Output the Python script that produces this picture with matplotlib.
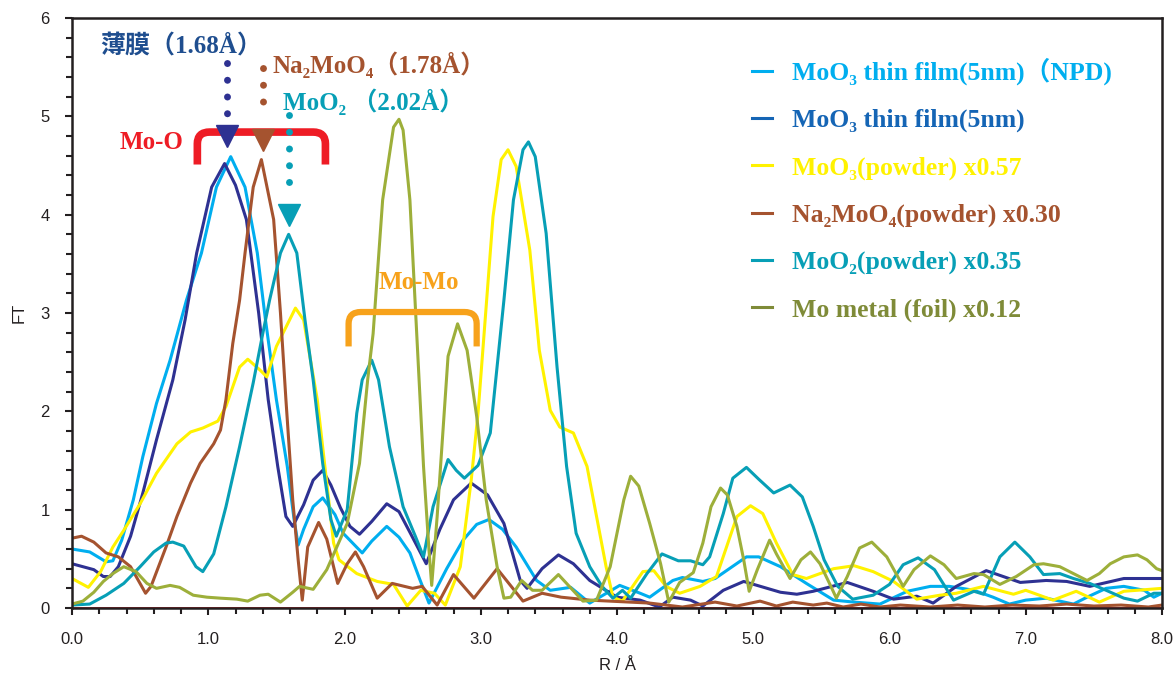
import matplotlib
matplotlib.use("Agg")
import matplotlib.pyplot as plt
from matplotlib.path import Path
from matplotlib.patches import PathPatch
from matplotlib.lines import Line2D
from matplotlib.ticker import MultipleLocator, FormatStrFormatter

SERIF = ['Liberation Serif', 'DejaVu Serif', 'Noto Sans CJK JP']

# --- data ---
npd_r = [0, 0.13, 0.25, 0.30, 0.365, 0.45, 0.52, 0.62, 0.72, 0.84, 0.95, 1.06, 1.165, 1.27, 1.36, 1.42,
         1.50, 1.58, 1.63, 1.66, 1.70, 1.77, 1.84, 1.93, 1.99, 2.13, 2.20, 2.31, 2.40, 2.48, 2.55, 2.62,
         2.75, 2.87, 2.97, 3.06, 3.16, 3.26, 3.41, 3.51, 3.66, 3.80, 4.02, 4.17, 4.24, 4.41, 4.48, 4.63,
         4.72, 4.95, 5.04, 5.20, 5.39, 5.59, 5.74, 5.93, 6.13, 6.30, 6.44, 6.62, 6.76, 6.88, 7.00, 7.15,
         7.35, 7.45, 7.59, 7.72, 7.87, 7.94, 8.0]
npd_ft = [0.60, 0.57, 0.47, 0.48, 0.69, 1.10, 1.54, 2.08, 2.52, 3.13, 3.61, 4.28, 4.59, 4.28, 3.61, 2.93,
          2.12, 1.44, 0.90, 0.64, 0.80, 1.03, 1.12, 0.95, 0.76, 0.56, 0.68, 0.83, 0.72, 0.56, 0.30, 0.05,
          0.40, 0.69, 0.85, 0.90, 0.80, 0.62, 0.28, 0.18, 0.21, 0.05, 0.23, 0.15, 0.11, 0.28, 0.31, 0.27,
          0.30, 0.52, 0.52, 0.42, 0.25, 0.08, 0.06, 0.04, 0.17, 0.22, 0.22, 0.18, 0.11, 0.04, 0.08, 0.10,
          0.04, 0.11, 0.20, 0.22, 0.18, 0.11, 0.15]

film_r = [0, 0.16, 0.23, 0.28, 0.34, 0.43, 0.52, 0.62, 0.74, 0.83, 0.915, 1.025, 1.12, 1.20, 1.28, 1.37,
          1.44, 1.51, 1.57, 1.62, 1.70, 1.77, 1.84, 1.90, 1.97, 2.04, 2.11, 2.20, 2.31, 2.40, 2.48, 2.60,
          2.70, 2.80, 2.93, 3.05, 3.17, 3.29, 3.34, 3.45, 3.57, 3.68, 3.80, 4.00, 4.17, 4.31, 4.41, 4.54,
          4.63, 4.78, 4.93, 5.20, 5.32, 5.44, 5.69, 5.88, 6.03, 6.20, 6.32, 6.49, 6.71, 6.96, 7.15, 7.30,
          7.47, 7.72, 7.94, 8.0]
film_ft = [0.45, 0.39, 0.32, 0.32, 0.42, 0.73, 1.17, 1.71, 2.32, 2.93, 3.61, 4.28, 4.52, 4.30, 3.95, 3.00,
           2.12, 1.44, 0.93, 0.83, 1.05, 1.30, 1.40, 1.25, 1.02, 0.83, 0.75, 0.88, 1.06, 0.98, 0.77, 0.45,
           0.80, 1.10, 1.27, 1.15, 0.86, 0.28, 0.20, 0.40, 0.54, 0.45, 0.28, 0.11, 0.08, 0.01, 0.11, 0.08,
           0.02, 0.18, 0.27, 0.16, 0.14, 0.17, 0.26, 0.17, 0.09, 0.12, 0.05, 0.22, 0.38, 0.26, 0.28, 0.27,
           0.22, 0.30, 0.30, 0.30]

moo3_r = [0, 0.12, 0.21, 0.30, 0.38, 0.50, 0.62, 0.77, 0.87, 0.96, 1.07, 1.13, 1.23, 1.29, 1.38, 1.43,
          1.50, 1.64, 1.70, 1.80, 1.87, 1.92, 1.96, 2.09, 2.24, 2.36, 2.46, 2.56, 2.66, 2.74, 2.85, 2.93,
          2.98, 3.09, 3.15, 3.20, 3.26, 3.36, 3.43, 3.51, 3.58, 3.68, 3.78, 3.85, 3.92, 3.97, 4.04, 4.19,
          4.27, 4.36, 4.46, 4.61, 4.73, 4.88, 4.98, 5.07, 5.17, 5.29, 5.39, 5.59, 5.74, 5.88, 6.03, 6.20,
          6.37, 6.49, 6.69, 6.91, 7.00, 7.20, 7.37, 7.54, 7.72, 7.91, 8.0]
moo3_ft = [0.30, 0.21, 0.37, 0.62, 0.79, 1.06, 1.37, 1.67, 1.79, 1.83, 1.90, 2.05, 2.45, 2.53, 2.42, 2.35,
           2.66, 3.05, 2.93, 2.12, 1.27, 0.66, 0.49, 0.35, 0.27, 0.24, 0.02, 0.18, 0.15, 0.03, 0.42, 1.30,
           1.98, 3.98, 4.56, 4.66, 4.49, 3.64, 2.62, 2.01, 1.84, 1.78, 1.44, 0.93, 0.42, 0.11, 0.07, 0.37,
           0.38, 0.22, 0.15, 0.22, 0.32, 0.93, 1.04, 0.96, 0.66, 0.34, 0.30, 0.40, 0.43, 0.37, 0.27, 0.09,
           0.13, 0.15, 0.22, 0.14, 0.18, 0.08, 0.17, 0.06, 0.17, 0.19, 0.20]

namoo_r = [0, 0.07, 0.16, 0.25, 0.34, 0.43, 0.54, 0.58, 0.69, 0.77, 0.87, 0.94, 1.04, 1.09, 1.13, 1.18,
           1.23, 1.27, 1.33, 1.39, 1.48, 1.53, 1.57, 1.62, 1.66, 1.69, 1.73, 1.81, 1.87, 1.95, 2.02, 2.08,
           2.14, 2.24, 2.35, 2.50, 2.57, 2.68, 2.80, 2.95, 3.12, 3.31, 3.45, 3.59, 3.80, 4.24, 4.48, 4.72,
           4.88, 5.05, 5.17, 5.29, 5.44, 5.54, 5.66, 5.79, 5.93, 6.08, 6.30, 6.50, 6.70, 6.90, 7.10, 7.30,
           7.50, 7.70, 7.90, 8.0]
namoo_ft = [0.71, 0.73, 0.67, 0.56, 0.52, 0.42, 0.15, 0.22, 0.62, 0.93, 1.27, 1.47, 1.67, 1.81, 2.12, 2.69,
            3.13, 3.61, 4.28, 4.56, 3.95, 3.00, 2.12, 1.10, 0.49, 0.08, 0.62, 0.87, 0.70, 0.25, 0.45, 0.57,
            0.42, 0.10, 0.25, 0.20, 0.22, 0.03, 0.34, 0.10, 0.40, 0.07, 0.15, 0.11, 0.08, 0.05, 0.01, 0.06,
            0.02, 0.07, 0.02, 0.06, 0.03, 0.05, 0.01, 0.04, 0.01, 0.03, 0.01, 0.03, 0.01, 0.03, 0.02, 0.04,
            0.02, 0.03, 0.01, 0.03]

moo2_r = [0, 0.13, 0.25, 0.38, 0.50, 0.60, 0.69, 0.74, 0.82, 0.91, 0.96, 1.04, 1.13, 1.23, 1.33, 1.40,
          1.45, 1.53, 1.59, 1.65, 1.71, 1.77, 1.84, 1.90, 1.94, 2.02, 2.09, 2.13, 2.20, 2.25, 2.33, 2.43,
          2.52, 2.58, 2.65, 2.76, 2.82, 2.88, 2.98, 3.07, 3.17, 3.24, 3.31, 3.35, 3.40, 3.48, 3.56, 3.63,
          3.70, 3.80, 3.89, 3.97, 4.04, 4.10, 4.22, 4.33, 4.45, 4.54, 4.63, 4.68, 4.78, 4.85, 4.95, 5.04,
          5.15, 5.27, 5.36, 5.44, 5.52, 5.62, 5.73, 5.88, 6.00, 6.10, 6.21, 6.33, 6.47, 6.62, 6.69, 6.81,
          6.92, 7.03, 7.13, 7.25, 7.35, 7.47, 7.59, 7.72, 7.82, 7.94, 8.0]
moo2_ft = [0.03, 0.04, 0.13, 0.25, 0.42, 0.57, 0.66, 0.67, 0.63, 0.42, 0.37, 0.55, 1.03, 1.64, 2.29, 2.79,
           3.13, 3.61, 3.80, 3.61, 2.93, 2.32, 1.47, 0.90, 0.73, 1.00, 1.98, 2.32, 2.52, 2.32, 1.64, 1.03,
           0.73, 0.52, 1.03, 1.51, 1.40, 1.32, 1.45, 1.78, 3.13, 4.15, 4.66, 4.74, 4.59, 3.81, 2.45, 1.44,
           0.76, 0.42, 0.22, 0.10, 0.18, 0.10, 0.35, 0.55, 0.48, 0.48, 0.44, 0.52, 0.96, 1.32, 1.43, 1.31,
           1.17, 1.25, 1.13, 0.83, 0.49, 0.22, 0.09, 0.13, 0.24, 0.44, 0.51, 0.39, 0.08, 0.17, 0.14, 0.52,
           0.67, 0.52, 0.34, 0.35, 0.30, 0.25, 0.18, 0.10, 0.07, 0.15, 0.15]

mo_r = [0, 0.08, 0.16, 0.23, 0.30, 0.38, 0.47, 0.55, 0.62, 0.72, 0.79, 0.89, 0.99, 1.09, 1.21, 1.29,
        1.38, 1.44, 1.53, 1.62, 1.67, 1.77, 1.87, 2.02, 2.11, 2.17, 2.21, 2.28, 2.36, 2.40, 2.43, 2.48,
        2.53, 2.58, 2.62, 2.64, 2.68, 2.73, 2.76, 2.83, 2.90, 2.97, 3.04, 3.12, 3.17, 3.22, 3.30, 3.38,
        3.45, 3.57, 3.65, 3.75, 3.85, 3.95, 4.05, 4.10, 4.16, 4.24, 4.32, 4.38, 4.46, 4.56, 4.63, 4.69,
        4.76, 4.81, 4.88, 4.93, 4.97, 5.03, 5.12, 5.17, 5.27, 5.35, 5.42, 5.49, 5.57, 5.61, 5.69, 5.78,
        5.87, 5.98, 6.06, 6.10, 6.18, 6.30, 6.40, 6.49, 6.62, 6.69, 6.81, 6.93, 7.06, 7.13, 7.25, 7.35,
        7.45, 7.54, 7.62, 7.72, 7.82, 7.89, 7.96, 8.0]
mo_ft = [0.04, 0.07, 0.16, 0.27, 0.35, 0.42, 0.37, 0.25, 0.20, 0.23, 0.21, 0.13, 0.11, 0.10, 0.09, 0.07,
         0.13, 0.14, 0.06, 0.16, 0.22, 0.19, 0.39, 0.86, 1.47, 2.32, 2.79, 4.15, 4.89, 4.97, 4.86, 4.15,
         2.79, 1.44, 0.59, 0.23, 0.93, 1.95, 2.56, 2.89, 2.62, 1.95, 1.10, 0.42, 0.10, 0.11, 0.28, 0.18,
         0.18, 0.34, 0.22, 0.07, 0.08, 0.42, 1.10, 1.34, 1.24, 0.86, 0.45, 0.06, 0.26, 0.36, 0.66, 1.03,
         1.22, 1.15, 0.83, 0.49, 0.17, 0.39, 0.69, 0.55, 0.30, 0.49, 0.57, 0.45, 0.22, 0.10, 0.32, 0.61,
         0.67, 0.52, 0.32, 0.22, 0.39, 0.53, 0.44, 0.30, 0.35, 0.34, 0.24, 0.32, 0.44, 0.45, 0.42, 0.35,
         0.28, 0.35, 0.45, 0.52, 0.54, 0.49, 0.40, 0.38]

series = [
    ('MoO₃ thin film(5nm)（NPD)', npd_r, npd_ft, '#00AEEF', '#00AEEF'),
    ('MoO₃ thin film(5nm)', film_r, film_ft, '#2E3192', '#1565B5'),
    ('MoO₃(powder) x0.57', moo3_r, moo3_ft, '#FFF200', '#FFF200'),
    ('Na₂MoO₄(powder) x0.30', namoo_r, namoo_ft, '#A5532F', '#A5532F'),
    ('MoO₂(powder) x0.35', moo2_r, moo2_ft, '#079FB6', '#079FB6'),
    ('Mo metal (foil) x0.12', mo_r, mo_ft, '#9DAF3A', '#7F8B38'),
]

fig = plt.figure(figsize=(11.74, 6.76), dpi=100)
ax = fig.add_axes([72 / 1174, 68 / 676, 1090 / 1174, 590 / 676])

ax.axhline(0, color='#E3191F', lw=2.0, zorder=1)
for label, r, ft, color, lcolor in series:
    ax.plot(r, ft, color=color, lw=2.2, solid_joinstyle='round', zorder=2)

ax.set_xlim(0, 8)
ax.set_ylim(0, 6)
ax.xaxis.set_major_locator(MultipleLocator(1))
ax.xaxis.set_minor_locator(MultipleLocator(0.2))
ax.yaxis.set_major_locator(MultipleLocator(1))
ax.yaxis.set_minor_locator(MultipleLocator(0.2))
ax.xaxis.set_major_formatter(FormatStrFormatter('%.1f'))
ax.yaxis.set_major_formatter(FormatStrFormatter('%d'))
ax.tick_params(which='both', direction='out', color='#231F20', width=1.5,
               labelsize=12, labelcolor='#231F20')
ax.tick_params(which='major', length=5)
ax.tick_params(which='minor', length=4)
ax.tick_params(axis='x', which='major', pad=12)
ax.tick_params(axis='y', which='major', pad=11)
for lab in ax.get_xticklabels() + ax.get_yticklabels():
    lab.set_family('Liberation Sans')
for sp in ax.spines.values():
    sp.set_linewidth(1.8)
    sp.set_color('#231F20')

ax.set_xlabel('R / Å', family='Liberation Sans', fontsize=12, color='#231F20', labelpad=8)
ax.set_ylabel('FT', family='Liberation Sans', fontsize=12, color='#231F20', labelpad=10)


def bracket(x0, x1, ybot, ytop, color, lw):
    rx, ry = 0.09, 0.12
    verts = [(x0, ybot), (x0, ytop - ry), (x0, ytop), (x0 + rx, ytop),
             (x1 - rx, ytop), (x1, ytop), (x1, ytop - ry), (x1, ybot)]
    codes = [Path.MOVETO, Path.LINETO, Path.CURVE3, Path.CURVE3,
             Path.LINETO, Path.CURVE3, Path.CURVE3, Path.LINETO]
    ax.add_patch(PathPatch(Path(verts, codes), fill=False, edgecolor=color,
                           lw=lw, capstyle='butt', zorder=4))


bracket(0.92, 1.86, 4.51, 4.84, '#EE1C25', 5.5)
bracket(2.03, 2.97, 2.66, 3.01, '#F7A21B', 4.5)
ax.text(0.35, 4.73, 'Mo-O', color='#EE1C25', fontsize=18, fontweight='bold',
        family=SERIF, ha='left', va='center', zorder=5)
ax.text(2.25, 3.31, 'Mo-Mo', color='#F7A21B', fontsize=18, fontweight='bold',
        family=SERIF, ha='left', va='center', zorder=5)


def dotted_arrow(x, ytop, ybot, yhead, color):
    ax.plot([x, x], [ytop, ybot], color=color, lw=5, linestyle=(0, (0.01, 2.4)),
            dash_capstyle='round', zorder=5)
    ax.plot([x], [yhead], marker='v', markersize=16, color=color, zorder=5)


dotted_arrow(1.135, 5.54, 4.98, 4.80, '#2E3192')
dotted_arrow(1.40, 5.49, 5.02, 4.76, '#A5532F')
dotted_arrow(1.595, 5.01, 4.20, 4.00, '#079FB6')

ax.text(0.205, 5.71, '薄膜（1.68Å）', color='#1F4E8F', fontsize=18, fontweight='bold',
        family=SERIF, ha='left', va='center', zorder=5)
ax.text(1.475, 5.52, 'Na₂MoO₄（1.78Å）', color='#A5532F', fontsize=18, fontweight='bold',
        family=SERIF, ha='left', va='center', zorder=5)
ax.text(1.55, 5.15, 'MoO₂ （2.02Å）', color='#079FB6', fontsize=18, fontweight='bold',
        family=SERIF, ha='left', va='center', zorder=5)

handles = [Line2D([], [], color=s[4], lw=2.2) for s in series]
leg = ax.legend(handles, [s[0] for s in series], loc='upper left',
                bbox_to_anchor=(0.603, 0.972), frameon=False, handlelength=0.75,
                handletextpad=0.8, labelspacing=0.93,
                labelcolor=[s[4] for s in series],
                prop={'family': SERIF, 'weight': 'bold', 'size': 18.5})

fig.savefig('out.png', dpi=100)
